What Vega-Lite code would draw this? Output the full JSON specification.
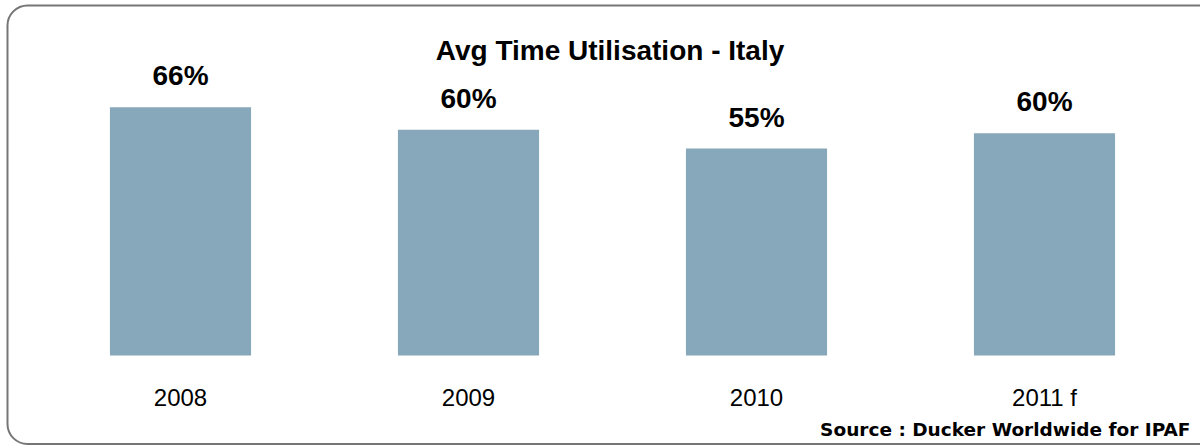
{
  "$schema": "https://vega.github.io/schema/vega-lite/v6.json",
  "width": 1300,
  "height": 438.5,
  "autosize": {"type": "none"},
  "padding": {"left": 7.5, "top": 5.5, "right": -107.5, "bottom": 2},
  "background": "white",
  "title": {
    "text": "Avg Time Utilisation - Italy",
    "font": "Liberation Sans",
    "fontSize": 28,
    "fontWeight": "bold",
    "color": "black",
    "anchor": "start",
    "align": "center",
    "baseline": "alphabetic",
    "offset": -82.5,
    "dx": 602.5
  },
  "config": {"view": {"stroke": "#767676", "strokeWidth": 2, "cornerRadius": 20}},
  "data": {
    "values": [
      {"year": "2008", "value": 66, "label": "66%"},
      {"year": "2009", "value": 60, "label": "60%"},
      {"year": "2010", "value": 55, "label": "55%"},
      {"year": "2011 f", "value": 59.1, "label": "60%"}
    ]
  },
  "encoding": {
    "x": {
      "field": "year",
      "type": "nominal",
      "sort": null,
      "scale": {"range": [29, 1181], "paddingInner": 0.51, "paddingOuter": 0.255},
      "axis": {
        "title": "Source : Ducker Worldwide for IPAF",
        "orient": "bottom",
        "offset": -39,
        "domain": false,
        "ticks": false,
        "tickSize": 0,
        "grid": false,
        "labelPadding": 0,
        "labelBaseline": "alphabetic",
        "labelFont": "Liberation Sans",
        "labelFontSize": 24,
        "labelColor": "black",
        "labelAngle": 0,
        "titleFont": "DejaVu Sans",
        "titleFontSize": 18.5,
        "titleFontWeight": "bold",
        "titleColor": "black",
        "titleAlign": "right",
        "titleAnchor": "end",
        "titleX": 1182.5,
        "titleY": 30,
        "titleBaseline": "alphabetic"
      }
    },
    "y": {
      "field": "value",
      "type": "quantitative",
      "scale": {"domain": [0, 80], "range": [350, 49]},
      "axis": null
    }
  },
  "layer": [
    {"mark": {"type": "bar", "color": "#87A7BA"}},
    {
      "mark": {
        "type": "text",
        "dy": -22,
        "baseline": "alphabetic",
        "font": "Liberation Sans",
        "fontSize": 28,
        "fontWeight": "bold",
        "color": "black"
      },
      "encoding": {"text": {"field": "label"}}
    }
  ]
}
